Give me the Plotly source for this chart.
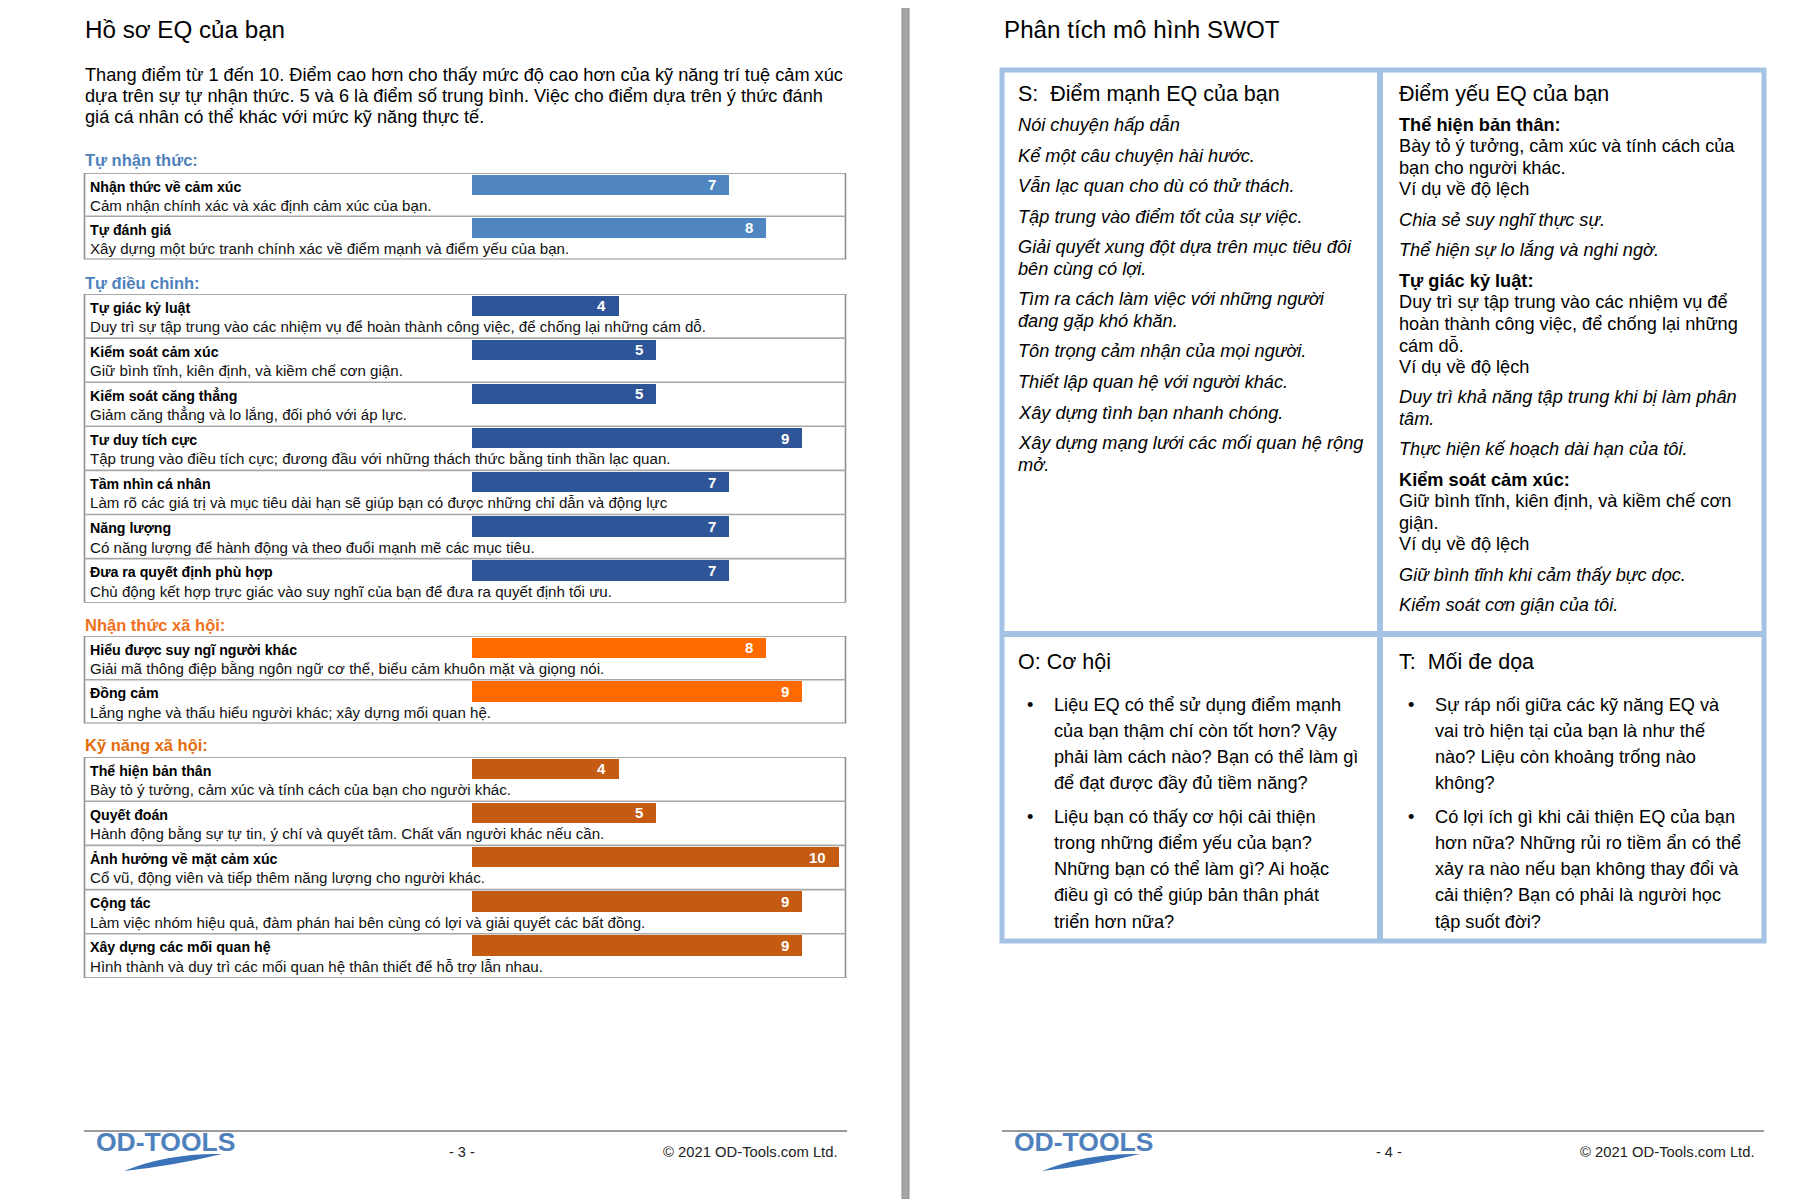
import plotly.graph_objects as go

# ---------------------------------------------------------------- data
page_title_left = "Hồ sơ EQ của bạn"
intro_lines = [
    "Thang điểm từ 1 đến 10. Điểm cao hơn cho thấy mức độ cao hơn của kỹ năng trí tuệ cảm xúc",
    "dựa trên sự tự nhận thức. 5 và 6 là điểm số trung bình. Việc cho điểm dựa trên ý thức đánh",
    "giá cá nhân có thể khác với mức kỹ năng thực tế.",
]
section_titles = ["Tự nhận thức:", "Tự điều chỉnh:", "Nhận thức xã hội:", "Kỹ năng xã hội:"]

self_awareness_skills = ["Nhận thức về cảm xúc", "Tự đánh giá"]
self_awareness_desc = [
    "Cảm nhận chính xác và xác định cảm xúc của bạn.",
    "Xây dựng một bức tranh chính xác về điểm mạnh và điểm yếu của bạn.",
]
self_awareness_scores = [7, 8]

self_regulation_skills = ["Tự giác kỷ luật", "Kiểm soát cảm xúc", "Kiểm soát căng thẳng", "Tư duy tích cực",
                          "Tầm nhìn cá nhân", "Năng lượng", "Đưa ra quyết định phù hợp"]
self_regulation_desc = [
    "Duy trì sự tập trung vào các nhiệm vụ để hoàn thành công việc, để chống lại những cám dỗ.",
    "Giữ bình tĩnh, kiên định, và kiềm chế cơn giận.",
    "Giảm căng thẳng và lo lắng, đối phó với áp lực.",
    "Tập trung vào điều tích cực; đương đầu với những thách thức bằng tinh thần lạc quan.",
    "Làm rõ các giá trị và mục tiêu dài hạn sẽ giúp bạn có được những chỉ dẫn và động lực",
    "Có năng lượng để hành động và theo đuổi mạnh mẽ các mục tiêu.",
    "Chủ động kết hợp trực giác vào suy nghĩ của bạn để đưa ra quyết định tối ưu.",
]
self_regulation_scores = [4, 5, 5, 9, 7, 7, 7]

social_awareness_skills = ["Hiểu được suy ngĩ người khác", "Đồng cảm"]
social_awareness_desc = [
    "Giải mã thông điệp bằng ngôn ngữ cơ thể, biểu cảm khuôn mặt và giọng nói.",
    "Lắng nghe và thấu hiểu người khác; xây dựng mối quan hệ.",
]
social_awareness_scores = [8, 9]

social_skills = ["Thể hiện bản thân", "Quyết đoán", "Ảnh hưởng về mặt cảm xúc", "Cộng tác", "Xây dựng các mối quan hệ"]
social_skills_desc = [
    "Bày tỏ ý tưởng, cảm xúc và tính cách của bạn cho người khác.",
    "Hành động bằng sự tự tin, ý chí và quyết tâm. Chất vấn người khác nếu cần.",
    "Cổ vũ, động viên và tiếp thêm năng lượng cho người khác.",
    "Làm việc nhóm hiệu quả, đàm phán hai bên cùng có lợi và giải quyết các bất đồng.",
    "Hình thành và duy trì các mối quan hệ thân thiết để hỗ trợ lẫn nhau.",
]
social_skills_scores = [4, 5, 10, 9, 9]

page_title_right = "Phân tích mô hình SWOT"
strengths_title = "S:  Điểm mạnh EQ của bạn"
strengths_items = [
    "Nói chuyện hấp dẫn",
    "Kể một câu chuyện hài hước.",
    "Vẫn lạc quan cho dù có thử thách.",
    "Tập trung vào điểm tốt của sự việc.",
    "Giải quyết xung đột dựa trên mục tiêu đôi\nbên cùng có lợi.",
    "Tìm ra cách làm việc với những người\nđang gặp khó khăn.",
    "Tôn trọng cảm nhận của mọi người.",
    "Thiết lập quan hệ với người khác.",
    "Xây dựng tình bạn nhanh chóng.",
    "Xây dựng mạng lưới các mối quan hệ rộng\nmở.",
]
weakness_title = "Điểm yếu EQ của bạn"
weakness_skills = ["Thể hiện bản thân:", "Tự giác kỷ luật:", "Kiểm soát cảm xúc:"]
weakness_desc = [
    "Bày tỏ ý tưởng, cảm xúc và tính cách của\nbạn cho người khác.",
    "Duy trì sự tập trung vào các nhiệm vụ để\nhoàn thành công việc, để chống lại những\ncám dỗ.",
    "Giữ bình tĩnh, kiên định, và kiềm chế cơn\ngiận.",
]
weakness_example_label = "Ví dụ về độ lệch"
weakness_examples = [
    ["Chia sẻ suy nghĩ thực sự.", "Thể hiện sự lo lắng và nghi ngờ."],
    ["Duy trì khả năng tập trung khi bị làm phân\ntâm.", "Thực hiện kế hoạch dài hạn của tôi."],
    ["Giữ bình tĩnh khi cảm thấy bực dọc.", "Kiểm soát cơn giận của tôi."],
]
opportunities_title = "O: Cơ hội"
opportunities = [
    "Liệu EQ có thể sử dụng điểm mạnh\ncủa bạn thậm chí còn tốt hơn? Vậy\nphải làm cách nào? Bạn có thể làm gì\nđể đạt được đầy đủ tiềm năng?",
    "Liệu bạn có thấy cơ hội cải thiện\ntrong những điểm yếu của bạn?\nNhững bạn có thể làm gì? Ai hoặc\nđiều gì có thể giúp bản thân phát\ntriển hơn nữa?",
]
threats_title = "T:  Mối đe dọa"
threats = [
    "Sự ráp nối giữa các kỹ năng EQ và\nvai trò hiện tại của bạn là như thế\nnào? Liệu còn khoảng trống nào\nkhông?",
    "Có lợi ích gì khi cải thiện EQ của bạn\nhơn nữa? Những rủi ro tiềm ẩn có thể\nxảy ra nào nếu bạn không thay đổi và\ncải thiện? Bạn có phải là người học\ntập suốt đời?",
]
footer_brand = "OD-TOOLS"
page_numbers = ["- 3 -", "- 4 -"]
copyright_text = "© 2021 OD-Tools.com Ltd."

# ---------------------------------------------------------------- styles / geometry
PAGE_W, PAGE_H = 1812, 1199
OFF = 8                      # page body margin of the html document
W, H = PAGE_W - OFF, PAGE_H - OFF
FONT = "Liberation Sans, Arial, sans-serif"
INK = "#000000"
bar_colors = ["#4F86C0", "#2E5597", "#FF6A00", "#C55A11"]
heading_colors = ["#4F81BD", "#4F81BD", "#F07020", "#E36C09"]
HEAD_Y = [160, 283, 625, 745]
BOX_TOP = [173, 294, 636, 757]
ROW_H = [43.2, 44.1, 43.7, 44.2]
BOX_L, BOX_R = 84.5, 845.5
BAR_X0, BAR_UNIT = 472, 36.7
SWOT_L, SWOT_R, SWOT_T, SWOT_B = 1002, 1764, 70, 941
SWOT_MX, SWOT_MY = 1380, 634
SWOT_BLUE = "#A4C3E4"
BODY = 18.2


def px(x):
    return (x - OFF) / W


def py(y):
    return 1 - (y - OFF) / H


annotations = []
shapes = []


def text(x, y, s, size, color=INK, xanchor="left", bold=False, italic=False):
    if bold:
        s = f"<b>{s}</b>"
    if italic:
        s = f"<i>{s}</i>"
    annotations.append(dict(x=px(x), y=py(y), xref="paper", yref="paper", text=s, showarrow=False,
                            xanchor=xanchor, yanchor="middle",
                            font=dict(family=FONT, size=size, color=color)))


fig = go.Figure()

# ---------------------------------------------------------------- left page
text(83, 30, page_title_left, 24.2)
for i, line in enumerate(intro_lines):
    text(83, 75 + i * 21, line, 18.2)

sections = [
    (self_awareness_skills, self_awareness_desc, self_awareness_scores),
    (self_regulation_skills, self_regulation_desc, self_regulation_scores),
    (social_awareness_skills, social_awareness_desc, social_awareness_scores),
    (social_skills, social_skills_desc, social_skills_scores),
]

layout_axes = {}
for k, (names, descs, scores) in enumerate(sections):
    n = len(scores)
    rh = ROW_H[k]
    top = BOX_TOP[k]
    bot = top + n * rh
    ax = k + 2
    xa, ya = f"x{ax}", f"y{ax}"
    fig.add_trace(go.Bar(
        x=scores, y=list(range(n)), orientation="h",
        width=20.5 / rh, offset=-0.5 + 1.5 / rh,
        marker=dict(color=bar_colors[k], line=dict(width=0)),
        xaxis=xa, yaxis=ya, hoverinfo="skip", showlegend=False, textposition="none",
    ))
    layout_axes[f"xaxis{ax}"] = dict(domain=[px(BAR_X0), px(BAR_X0 + 10 * BAR_UNIT)], range=[0, 10],
                                     visible=False, anchor=ya, fixedrange=True)
    layout_axes[f"yaxis{ax}"] = dict(domain=[py(bot), py(top)], range=[n - 0.5, -0.5],
                                     visible=False, anchor=xa, fixedrange=True)
    text(83, HEAD_Y[k], section_titles[k], 16.5, heading_colors[k], bold=True)
    shapes.append(dict(type="rect", xref="paper", yref=ya, x0=px(BOX_L), x1=px(BOX_R), y0=-0.5, y1=n - 0.5,
                       line=dict(color="#8F8F8F", width=1.6), layer="above"))
    for i in range(n - 1):
        shapes.append(dict(type="line", xref="paper", yref=ya, x0=px(BOX_L), x1=px(BOX_R), y0=i + 0.5, y1=i + 0.5,
                           line=dict(color="#A8A8A8", width=1.6), layer="above"))
    for i in range(n):
        annotations.append(dict(x=px(88), y=i - 0.5 + 13.5 / rh, xref="paper", yref=ya,
                                text=f"<b>{names[i]}</b>", showarrow=False, xanchor="left", yanchor="middle",
                                font=dict(family=FONT, size=14.2, color=INK)))
        annotations.append(dict(x=px(88), y=i - 0.5 + 32.5 / rh, xref="paper", yref=ya,
                                text=descs[i], showarrow=False, xanchor="left", yanchor="middle",
                                font=dict(family=FONT, size=15.1, color="#111111")))
        annotations.append(dict(x=scores[i], y=i - 0.5 + 11.75 / rh, xref=xa, yref=ya,
                                text=f"<b>{scores[i]}</b>", showarrow=False, xanchor="right", yanchor="middle",
                                xshift=-11, font=dict(family=FONT, size=15, color="#FFFFFF")))

# ---------------------------------------------------------------- separator between pages
shapes.append(dict(type="rect", xref="paper", yref="paper", x0=px(902), x1=px(909), y0=0, y1=1.01,
                   fillcolor="#A6A6A6", line=dict(color="#8C8C8C", width=1), layer="below"))

# ---------------------------------------------------------------- right page (SWOT)
text(1002, 30, page_title_right, 24.2)
shapes.append(dict(type="rect", xref="paper", yref="paper", x0=px(SWOT_L), x1=px(SWOT_R),
                   y0=py(SWOT_B), y1=py(SWOT_T), line=dict(color=SWOT_BLUE, width=5), layer="above"))
shapes.append(dict(type="line", xref="paper", yref="paper", x0=px(SWOT_MX), x1=px(SWOT_MX),
                   y0=py(SWOT_B), y1=py(SWOT_T), line=dict(color=SWOT_BLUE, width=6), layer="above"))
shapes.append(dict(type="line", xref="paper", yref="paper", x0=px(SWOT_L), x1=px(SWOT_R),
                   y0=py(SWOT_MY), y1=py(SWOT_MY), line=dict(color=SWOT_BLUE, width=6), layer="above"))

L, G = 21.4, 30.6
SX, WX = 1016, 1397
text(SX, 94, strengths_title, 21.5)
y = 125
for item in strengths_items:
    for j, line in enumerate(item.split("\n")):
        text(SX, y, line, BODY, italic=True)
        y += L
    y += G - L

text(WX, 94, weakness_title, 21.5)
y = 125
for s_i, skill in enumerate(weakness_skills):
    text(WX, y, skill, BODY, bold=True)
    y += L
    for line in weakness_desc[s_i].split("\n"):
        text(WX, y, line, BODY)
        y += L
    text(WX, y, weakness_example_label, BODY)
    for ex in weakness_examples[s_i]:
        y += G
        lines = ex.split("\n")
        for j, line in enumerate(lines):
            if j > 0:
                y += L
            text(WX, y, line, BODY, italic=True)
    y += G

OL, OG = 26.2, 33.5
for title, items, x0 in [(opportunities_title, opportunities, SX), (threats_title, threats, WX)]:
    text(x0, 662, title, 21.5)
    y = 704.6
    for item in items:
        text(x0 + 9, y, "•", BODY)
        for line in item.split("\n"):
            text(x0 + 36, y, line, BODY)
            y += OL
        y += OG - OL

# ---------------------------------------------------------------- footers
for p, (l, r, num_x) in enumerate([(84, 847, 462), (1002, 1764, 1389)]):
    shapes.append(dict(type="line", xref="paper", yref="paper", x0=px(l), x1=px(r), y0=py(1131), y1=py(1131),
                       line=dict(color="#9B9B9B", width=2)))
    text(l + 10, 1142, f"<b>{footer_brand}</b>", 26.5, "#4F81BD")
    pts = [(l + 40, 1171), (l + 84, 1153), (l + 138, 1154), (l + 88, 1166), (l + 40, 1171)]
    path = (f"M {px(pts[0][0])},{py(pts[0][1])} Q {px(pts[1][0])},{py(pts[1][1])} {px(pts[2][0])},{py(pts[2][1])} "
            f"Q {px(pts[3][0])},{py(pts[3][1])} {px(pts[4][0])},{py(pts[4][1])} Z")
    shapes.append(dict(type="path", xref="paper", yref="paper", path=path, fillcolor="#3A73B8",
                       line=dict(width=0)))
    text(num_x, 1152, page_numbers[p], 14.5, "#222222", xanchor="center")
    text(r - 7, 1152, copyright_text, 14.8, "#222222", xanchor="right")

fig.update_layout(
    width=W, height=H, autosize=False,
    margin=dict(l=0, r=0, t=0, b=0),
    paper_bgcolor="#FFFFFF", plot_bgcolor="rgba(0,0,0,0)",
    showlegend=False, bargap=0,
    xaxis=dict(visible=False), yaxis=dict(visible=False),
    annotations=annotations, shapes=shapes,
    **layout_axes,
)
fig.write_html("out.html")
